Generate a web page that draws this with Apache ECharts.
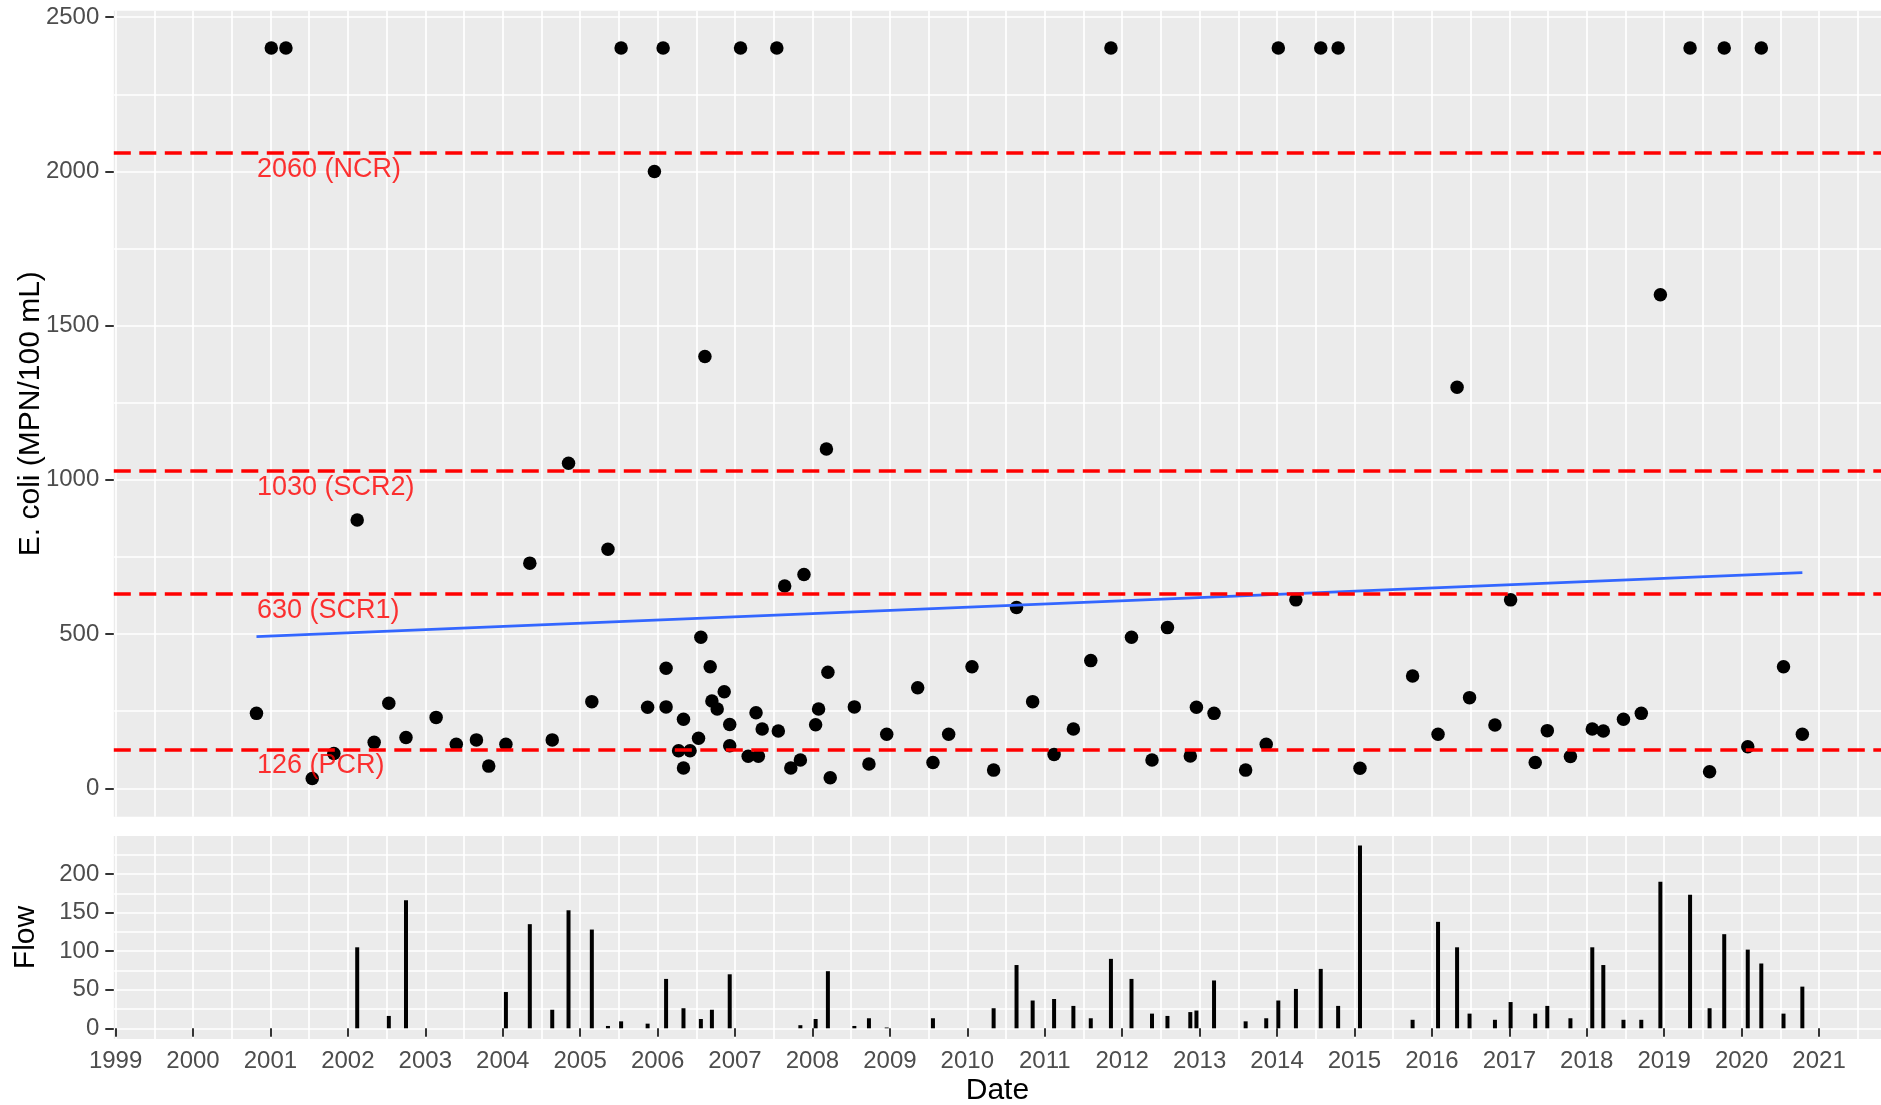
<!DOCTYPE html>
<html>
<head>
<meta charset="utf-8">
<title>E. coli and Flow</title>
<script src="https://cdn.jsdelivr.net/npm/echarts@6/dist/echarts.min.js"></script>
<style>
  html, body { margin: 0; padding: 0; background: #ffffff; }
  #chart { width: 1881px; height: 1105px; }
</style>
</head>
<body>
<div id="chart"></div>
<script>
// ---- Sample data -------------------------------------------------------
const sampleDates = [
  '2000-10-27', '2001-01-05', '2001-03-15', '2001-07-17', '2001-10-27',
  '2002-02-14', '2002-05-05', '2002-07-13', '2002-10-02', '2003-02-21',
  '2003-05-27', '2003-08-30', '2003-10-27', '2004-01-16', '2004-05-08',
  '2004-08-22', '2004-11-07', '2005-02-25', '2005-05-12', '2005-07-13',
  '2005-11-15', '2005-12-17', '2006-01-27', '2006-02-10', '2006-02-10',
  '2006-04-10', '2006-05-03', '2006-05-03', '2006-06-03', '2006-07-13',
  '2006-07-24', '2006-08-12', '2006-09-06', '2006-09-14', '2006-10-09',
  '2006-11-11', '2006-12-07', '2006-12-07', '2007-01-27', '2007-03-04',
  '2007-04-10', '2007-04-21', '2007-05-09', '2007-07-17', '2007-07-24',
  '2007-08-23', '2007-09-21', '2007-11-05', '2007-11-22', '2008-01-16',
  '2008-01-30', '2008-03-07', '2008-03-14', '2008-03-25', '2008-07-17',
  '2008-09-24', '2008-12-17', '2009-05-12', '2009-07-23', '2009-10-05',
  '2010-01-23', '2010-05-05', '2010-08-21', '2010-11-05', '2011-02-14',
  '2011-05-16', '2011-08-06', '2011-11-09', '2012-02-14', '2012-05-21',
  '2012-08-02', '2012-11-18', '2012-12-17', '2013-03-10', '2013-08-06',
  '2013-11-11', '2014-01-07', '2014-03-31', '2014-07-26', '2014-10-16',
  '2015-01-27', '2015-10-02', '2016-01-30', '2016-04-29', '2016-06-27',
  '2016-10-25', '2017-01-07', '2017-05-03', '2017-06-29', '2017-10-16',
  '2018-01-27', '2018-03-20', '2018-06-23', '2018-09-15', '2018-12-14',
  '2019-05-03', '2019-08-03', '2019-10-11', '2020-01-30', '2020-04-03',
  '2020-07-17', '2020-10-14'
];

// E. coli (MPN/100 mL) per sample
const ecoli = [
  243, 2400, 2400, 32, 113,
  870, 149, 276, 165, 230,
  143, 157, 72, 143, 730,
  157, 1054, 281, 775, 2400,
  263, 2000, 2400, 389, 264,
  122, 224, 66, 122, 162,
  490, 1400, 394, 283, 257,
  313, 207, 138, 2400, 104,
  245, 104, 192, 2400, 186,
  656, 66, 92, 693, 206,
  257, 1100, 376, 34, 264,
  79, 175, 326, 84, 175,
  394, 59, 586, 281, 110,
  192, 414, 2400, 490, 92,
  521, 105, 263, 243, 59,
  143, 2400, 611, 2400, 2400,
  65, 364, 175, 1300, 294,
  205, 611, 84, 187, 103,
  192, 186, 224, 243, 1600,
  2400, 54, 2400, 135, 2400,
  394, 175
];

// Flow on the sample day (null = not recorded)
const flow = [
  null, null, null, null, null,
  105, null, 16, 166, null,
  null, null, null, 47, 135,
  24, 153, 128, 3, 9,
  6, null, null, 64, null,
  null, 26, null, null, null,
  12, null, null, 24, null,
  null, 70, null, null, null,
  null, null, null, null, null,
  null, null, 4, null, 12,
  null, null, 74, null, 3,
  13, 1, null, 13, null,
  null, 26, 82, 36, 38,
  29, 13, 90, 64, 19,
  16, 21, 23, 62, 9,
  13, 36, 51, 77, 29,
  237, 11, 138, 105, 19,
  11, 34, 19, 29, 13,
  105, 82, 11, 11, 190,
  173, 26, 122, 102, 84,
  19, 54
];

// Linear trend of E. coli over the sampling period
const trendDates = ['2000-10-27', '2020-10-14'];
const trendValues = [492, 699];

// Recreation criteria
const criteriaValues = [2060, 1030, 630, 126];
const criteriaLabels = ['2060 (NCR)', '1030 (SCR2)', '630 (SCR1)', '126 (PCR)'];

// Axis breaks
const yearTicks = [1999, 2000, 2001, 2002, 2003, 2004, 2005, 2006, 2007, 2008, 2009,
                   2010, 2011, 2012, 2013, 2014, 2015, 2016, 2017, 2018, 2019, 2020, 2021];
const ecoliTicks = [0, 500, 1000, 1500, 2000, 2500];
const flowTicks = [0, 50, 100, 150, 200];

// ---- Helpers -----------------------------------------------------------
function decimalYear(s) {
  const [y, m, d] = s.split('-').map(Number);
  const t = Date.UTC(y, m - 1, d);
  const t0 = Date.UTC(y, 0, 1);
  const t1 = Date.UTC(y + 1, 0, 1);
  return y + (t - t0) / (t1 - t0);
}

// major breaks plus the minor breaks halfway between them, inside [lo, hi]
function gridBreaks(major, lo, hi) {
  const step = major[1] - major[0];
  const all = major.slice();
  all.push(major[0] - step / 2);
  major.forEach(v => all.push(v + step / 2));
  return all.filter(v => v >= lo && v <= hi).sort((a, b) => a - b);
}

const X_RANGE = [1998.977, 2021.8];
const ECOLI_RANGE = [-92, 2521];
const FLOW_RANGE = [-13.9, 249.3];

const FONT = '"Liberation Sans", Arial, Helvetica, sans-serif';
const GRID_LINE = { color: '#FFFFFF', width: 1.7 };
const TICK_LINE = { color: '#333333', width: 2 };
const TICK_FONT = 24;
const TITLE_FONT = 30;
const intLabel = v => String(Math.round(v));

const xs = sampleDates.map(decimalYear);
const ecoliPoints = xs.map((x, i) => [x, ecoli[i]]);
const flowBars = xs.map((x, i) => [x, flow[i]]).filter(p => p[1] !== null);
const trendLine = trendDates.map((d, i) => [decimalYear(d), trendValues[i]]);
const firstX = Math.min.apply(null, xs);
const criteriaText = criteriaValues.map((v, i) => ({ value: [firstX, v], name: criteriaLabels[i] }));

const xGrid = gridBreaks(yearTicks, X_RANGE[0], X_RANGE[1]);
const ecoliGrid = gridBreaks(ecoliTicks, ECOLI_RANGE[0], ECOLI_RANGE[1]);
const flowGrid = gridBreaks(flowTicks, FLOW_RANGE[0], FLOW_RANGE[1]);

function gridOnlyAxis(gridIndex, range, breaks) {
  return {
    type: 'value', gridIndex: gridIndex, min: range[0], max: range[1],
    axisLine: { show: false },
    axisTick: { show: false, customValues: breaks },
    axisLabel: { show: false },
    splitLine: { show: true, lineStyle: GRID_LINE },
    z: 0
  };
}

const chart = echarts.init(document.getElementById('chart'), null, { renderer: 'canvas' });

chart.setOption({
  animation: false,
  backgroundColor: '#FFFFFF',
  textStyle: { fontFamily: FONT },
  grid: [
    { left: 113.8, top: 10.7, width: 1767.2, height: 806, show: true,
      backgroundColor: '#EBEBEB', borderWidth: 0, outerBoundsMode: 'none' },
    { left: 113.8, top: 836, width: 1767.2, height: 203, show: true,
      backgroundColor: '#EBEBEB', borderWidth: 0, outerBoundsMode: 'none' }
  ],
  xAxis: [
    gridOnlyAxis(0, X_RANGE, xGrid),
    {
      type: 'value', gridIndex: 1, min: X_RANGE[0], max: X_RANGE[1], position: 'bottom',
      axisLine: { show: false },
      axisTick: { show: true, length: 8.5, lineStyle: TICK_LINE, customValues: yearTicks },
      axisLabel: { customValues: yearTicks, formatter: intLabel, fontSize: TICK_FONT,
                   color: '#4D4D4D', margin: 10, fontFamily: FONT },
      splitLine: { show: false },
      name: 'Date', nameLocation: 'middle', nameGap: 37, nameMoveOverlap: false,
      nameTextStyle: { fontSize: TITLE_FONT, color: '#000000', fontFamily: FONT }
    },
    gridOnlyAxis(1, X_RANGE, xGrid)
  ],
  yAxis: [
    {
      type: 'value', gridIndex: 0, min: ECOLI_RANGE[0], max: ECOLI_RANGE[1], position: 'left',
      axisLine: { show: false },
      axisTick: { show: true, length: 8.5, lineStyle: TICK_LINE, customValues: ecoliTicks },
      axisLabel: { customValues: ecoliTicks, formatter: intLabel, fontSize: TICK_FONT,
                   color: '#4D4D4D', margin: 14.5, fontFamily: FONT },
      splitLine: { show: false },
      name: 'E. coli (MPN/100 mL)', nameLocation: 'middle', nameGap: 68, nameMoveOverlap: false,
      nameTextStyle: { fontSize: TITLE_FONT, color: '#000000', fontFamily: FONT }
    },
    {
      type: 'value', gridIndex: 1, min: FLOW_RANGE[0], max: FLOW_RANGE[1], position: 'left',
      axisLine: { show: false },
      axisTick: { show: true, length: 8.5, lineStyle: TICK_LINE, customValues: flowTicks },
      axisLabel: { customValues: flowTicks, formatter: intLabel, fontSize: TICK_FONT,
                   color: '#4D4D4D', margin: 14.5, fontFamily: FONT },
      splitLine: { show: false },
      name: 'Flow', nameLocation: 'middle', nameGap: 72.8, nameMoveOverlap: false,
      nameTextStyle: { fontSize: TITLE_FONT, color: '#000000', fontFamily: FONT }
    },
    Object.assign(gridOnlyAxis(0, ECOLI_RANGE, ecoliGrid), { position: 'right' }),
    Object.assign(gridOnlyAxis(1, FLOW_RANGE, flowGrid), { position: 'right' })
  ],
  series: [
    {
      name: 'Criteria', type: 'line', xAxisIndex: 0, yAxisIndex: 0,
      data: [], silent: true, z: 2,
      markLine: {
        silent: true, symbol: ['none', 'none'], animation: false,
        label: { show: false },
        lineStyle: { color: '#FF0000', type: [17, 8.5], width: 3.5, cap: 'butt' },
        emphasis: { disabled: true },
        data: criteriaValues.map(v => ({ yAxis: v }))
      }
    },
    {
      name: 'E. coli', type: 'scatter', xAxisIndex: 0, yAxisIndex: 0,
      data: ecoliPoints, symbol: 'circle', symbolSize: 13.5,
      itemStyle: { color: '#000000', opacity: 1 }, silent: true, z: 3
    },
    {
      name: 'Trend', type: 'line', xAxisIndex: 0, yAxisIndex: 0,
      data: trendLine, showSymbol: false, symbol: 'none', silent: true, z: 4,
      lineStyle: { color: '#3366FF', width: 2.7 }
    },
    {
      name: 'Criteria labels', type: 'scatter', xAxisIndex: 0, yAxisIndex: 0,
      data: criteriaText, symbolSize: 1, silent: true, z: 5,
      itemStyle: { color: 'transparent' },
      label: {
        show: true, position: 'right', distance: 0, offset: [0, 16.5],
        formatter: '{b}', fontSize: 27, color: '#FF0000', fontFamily: FONT
      }
    },
    {
      name: 'Flow', type: 'bar', xAxisIndex: 1, yAxisIndex: 1,
      data: flowBars, barWidth: 4, silent: true, z: 3,
      itemStyle: { color: '#000000' }
    }
  ]
});
</script>
</body>
</html>
